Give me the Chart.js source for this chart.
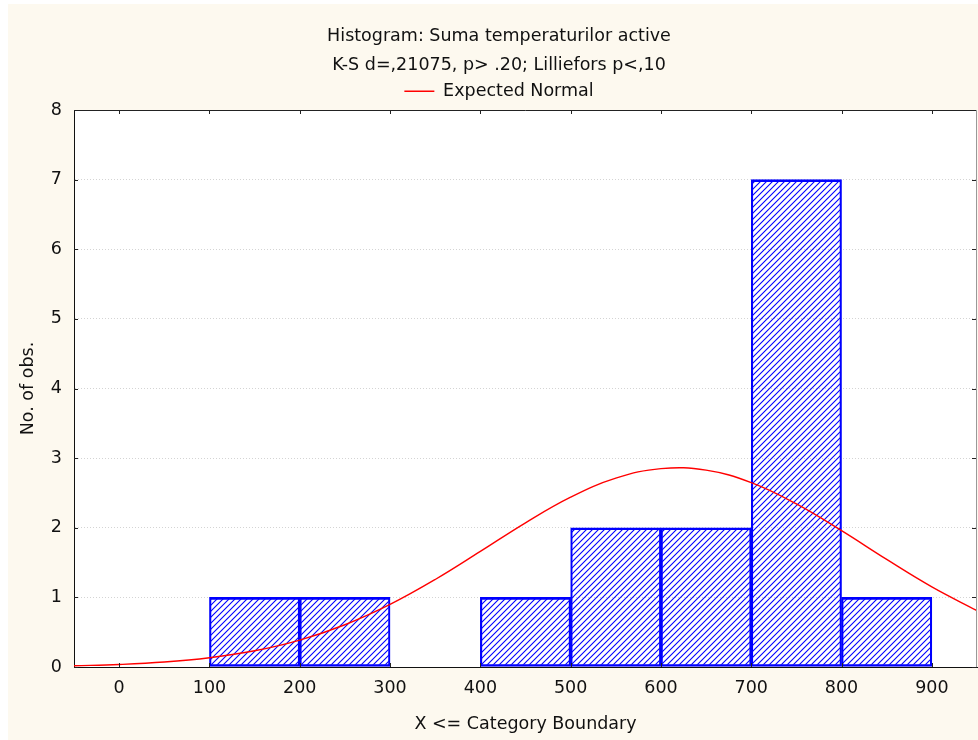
<!DOCTYPE html>
<html>
<head>
<meta charset="utf-8">
<title>Histogram: Suma temperaturilor active</title>
<script src="https://cdn.jsdelivr.net/npm/chart.js@4.4.1/dist/chart.umd.min.js"></script>
<style>
  html, body { margin: 0; padding: 0; background: #fff; }
</style>
</head>
<body>
<canvas id="histogram" width="978" height="740"></canvas>
<script>
// histogram bins (lower boundary of each 100-wide class) and counts
const binStarts = [100, 200, 300, 400, 500, 600, 700, 800];
const binCounts = [1, 1, 0, 1, 2, 2, 7, 1];
const binWidth = 100;

// expected normal curve, sampled every 50 units
const normalX = [-50, 0, 50, 100, 150, 200, 250, 300, 350, 400, 450, 500, 550, 600, 650, 700, 750, 800, 850, 900, 950];
const normalY = [0.017, 0.036, 0.071, 0.133, 0.233, 0.387, 0.607, 0.899, 1.257, 1.660, 2.071, 2.439, 2.712, 2.849, 2.827, 2.648, 2.342, 1.958, 1.545, 1.151, 0.810];

const xTicks = [0, 100, 200, 300, 400, 500, 600, 700, 800, 900];
const yTicks = [0, 1, 2, 3, 4, 5, 6, 7, 8];

const titleText = 'Histogram: Suma temperaturilor active';
const subtitleText = 'K-S d=,21075, p> .20; Lilliefors p<,10';
const legendText = 'Expected Normal';
const xTitle = 'X <= Category Boundary';
const yTitle = 'No. of obs.';

const FONT = 'DejaVu Sans';
const INK = '#111';

// diagonal hatch fill for the bars
function makeHatch() {
    const c = document.createElement('canvas');
    c.width = 6; c.height = 6;
    const g = c.getContext('2d');
    g.strokeStyle = '#0000ff';
    g.lineWidth = 1.1;
    g.beginPath();
    g.moveTo(-1, 7); g.lineTo(7, -1);
    g.moveTo(-4, 4); g.lineTo(4, -4);
    g.moveTo(2, 10); g.lineTo(10, 2);
    g.stroke();
    return g.createPattern(c, 'repeat');
}

const barData = [];
binStarts.forEach((s, i) => {
    if (binCounts[i] > 0) barData.push({ x: s + binWidth / 2, y: binCounts[i] });
});
const curveData = normalX.map((x, i) => ({ x: x, y: normalY[i] }));

// cream page, white plot, frame lines and inward tick marks
const framePlugin = {
    id: 'frame',
    beforeDraw(chart) {
        const { ctx, chartArea: a } = chart;
        ctx.save();
        ctx.fillStyle = '#fdf9ef';
        ctx.fillRect(8, 4, chart.width - 8, chart.height - 4);
        ctx.fillStyle = '#fff';
        ctx.fillRect(a.left, a.top, a.right - a.left, a.bottom - a.top);
        ctx.restore();
    },
    afterDraw(chart) {
        const { ctx, chartArea: a, scales } = chart;
        ctx.save();
        ctx.lineWidth = 1;
        ctx.strokeStyle = '#222';
        ctx.beginPath();
        ctx.moveTo(a.left, a.top + 0.5); ctx.lineTo(a.right, a.top + 0.5);
        xTicks.forEach(v => {
            const px = Math.round(scales.x.getPixelForValue(v)) + 0.5;
            ctx.moveTo(px, a.top); ctx.lineTo(px, a.top + 4);
            ctx.moveTo(px, a.bottom); ctx.lineTo(px, a.bottom - 4);
        });
        yTicks.forEach(v => {
            const py = Math.round(scales.y.getPixelForValue(v)) + 0.5;
            ctx.moveTo(a.left, py); ctx.lineTo(a.left + 4, py);
            ctx.moveTo(a.right, py); ctx.lineTo(a.right - 5, py);
        });
        ctx.stroke();
        ctx.strokeStyle = '#999';
        ctx.beginPath();
        ctx.moveTo(a.right - 0.5, a.top); ctx.lineTo(a.right - 0.5, a.bottom);
        ctx.stroke();
        ctx.restore();
    }
};

const chart = new Chart(document.getElementById('histogram'), {
    type: 'bar',
    data: {
        datasets: [{
            type: 'line',
            label: legendText,
            data: curveData,
            borderColor: '#ff0000',
            backgroundColor: '#ff0000',
            borderWidth: 1.4,
            pointRadius: 0,
            tension: 0.4,
            fill: false,
            order: 0
        }, {
            label: 'counts',
            data: barData,
            backgroundColor: makeHatch(),
            borderColor: '#0000ff',
            borderWidth: { top: 2, bottom: 2, left: 1.5, right: 1.5 },
            borderSkipped: false,
            barPercentage: 1,
            categoryPercentage: 1,
            order: 1
        }]
    },
    options: {
        responsive: false,
        animation: false,
        layout: { padding: { left: 21, right: 1, top: 4, bottom: 0 } },
        plugins: {
            tooltip: { enabled: false },
            title: {
                display: true,
                text: titleText,
                color: INK,
                font: { family: FONT, size: 17.5, weight: 'normal' },
                padding: { top: 16, bottom: 0 }
            },
            subtitle: {
                display: true,
                text: subtitleText,
                color: INK,
                font: { family: FONT, size: 17.5 },
                padding: { top: 8.5, bottom: 0 }
            },
            legend: {
                display: true,
                position: 'top',
                labels: {
                    color: INK,
                    font: { family: FONT, size: 17.5 },
                    usePointStyle: true,
                    pointStyle: 'line',
                    pointStyleWidth: 30,
                    padding: 6.25,
                    filter: item => item.datasetIndex === 0
                }
            }
        },
        scales: {
            x: {
                type: 'linear',
                offset: false,
                min: -50,
                max: 950,
                afterBuildTicks: scale => { scale.ticks = xTicks.map(v => ({ value: v })); },
                afterFit: scale => { scale.height = 73; },
                grid: { display: false, drawTicks: false },
                border: { display: true, color: '#111', width: 1 },
                ticks: {
                    color: INK,
                    padding: 11,
                    maxRotation: 0,
                    font: { family: FONT, size: 17.5 }
                },
                title: {
                    display: true,
                    text: xTitle,
                    color: INK,
                    font: { family: FONT, size: 17.5 },
                    padding: { top: 0, bottom: 5.5 }
                }
            },
            y: {
                min: 0,
                max: 8,
                afterBuildTicks: scale => { scale.ticks = yTicks.map(v => ({ value: v })); },
                afterFit: scale => { scale.width = 53; scale.paddingTop = 110; },
                grid: {
                    color: '#d4d4d4',
                    drawTicks: false
                },
                border: { display: true, color: '#111', width: 1, dash: [1, 2] },
                ticks: {
                    color: INK,
                    padding: 12,
                    font: { family: FONT, size: 17.5 }
                },
                title: {
                    display: true,
                    text: yTitle,
                    color: INK,
                    font: { family: FONT, size: 17.5 },
                    padding: { top: -3, bottom: 0 }
                }
            }
        }
    },
    plugins: [framePlugin]
});
</script>
</body>
</html>
